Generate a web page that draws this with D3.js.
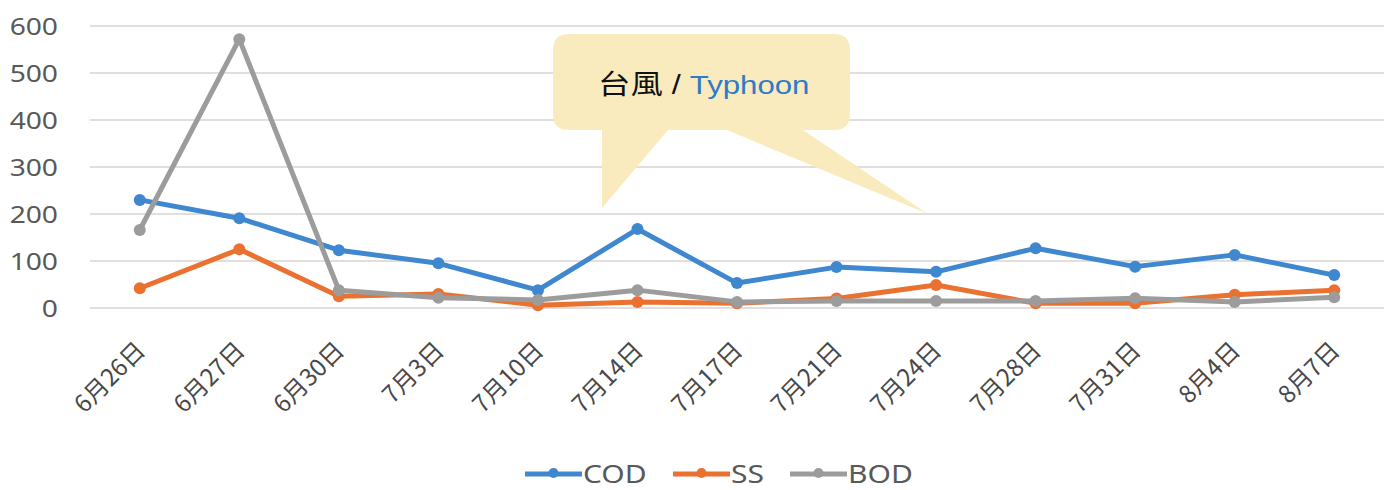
<!DOCTYPE html>
<html><head><meta charset="utf-8">
<script src="https://cdn.jsdelivr.net/npm/d3@7"></script>
<style>html,body{margin:0;padding:0;background:#fff;}svg{display:block;}</style>
</head><body>
<svg id="chart" width="1397" height="490"></svg>
<script>
const categories = ["6月26日","6月27日","6月30日","7月3日","7月10日","7月14日","7月17日","7月21日","7月24日","7月28日","7月31日","8月4日","8月7日"];
const codValues = [230, 191, 123, 95, 38, 168, 53, 87, 77, 127, 88, 113, 70];
const ssValues  = [42, 125, 25, 30, 6, 13, 10, 20, 49, 10, 10, 28, 38];
const bodValues = [166, 572, 38, 22, 17, 38, 13, 15, 15, 15, 21, 13, 23];
const yTicks = [0, 100, 200, 300, 400, 500, 600];
const seriesNames = ["COD", "SS", "BOD"];
const seriesColors = ["#3f87cf", "#ea7130", "#9c9c9c"];
const calloutText = ["台風", " / ", "Typhoon"];

const series = [codValues, ssValues, bodValues].map((v, i) => ({name: seriesNames[i], color: seriesColors[i], values: v}));
const SX = 1.2; // horizontal stretch of the original figure's text

const svg = d3.select("#chart");
const x = d3.scalePoint().domain(categories).range([90, 1384]).padding(0.5);
const y = d3.scaleLinear().domain([0, 600]).range([308, 26]);

// gridlines
svg.append("g").selectAll("line").data(yTicks).join("line")
  .attr("x1", 90).attr("x2", 1384)
  .attr("y1", d => y(d)).attr("y2", d => y(d))
  .attr("stroke", "#d9d3d3").attr("stroke-width", 1.6);

// y axis labels
const yAxis = d3.axisLeft(y).tickValues(yTicks).tickSize(0).tickPadding(0);
const yg = svg.append("g").attr("transform", "translate(58,0)").call(yAxis);
yg.select(".domain").remove();
yg.selectAll("text").attr("x", 0).attr("font-family", "'Noto Sans', sans-serif").attr("font-size", 23.5)
  .attr("fill", "#595959").attr("dy", "0.36em").attr("transform", `scale(${SX},1)`);

// x axis labels
const xAxis = d3.axisBottom(x).tickSize(0).tickPadding(0);
const xg = svg.append("g").call(xAxis);
xg.select(".domain").remove();
xg.selectAll(".tick").attr("transform", d => `translate(${x(d) + 7},352)`);
xg.selectAll("text")
  .attr("font-family", "'Noto Sans CJK TC', sans-serif").attr("font-size", 24)
  .attr("fill", "#484848").attr("text-anchor", "end")
  .attr("x", 0).attr("y", 0).attr("dy", 0)
  .attr("transform", "rotate(-45)");

// callout
const callout = svg.append("g");
const bx0 = 553, bx1 = 850, by0 = 34, by1 = 130, r = 16;
const p = d3.path();
p.moveTo(bx0 + r, by0);
p.lineTo(bx1 - r, by0);
p.quadraticCurveTo(bx1, by0, bx1, by0 + r);
p.lineTo(bx1, by1 - r);
p.quadraticCurveTo(bx1, by1, bx1 - r, by1);
p.lineTo(803, by1);
p.lineTo(928, 214);
p.lineTo(727, by1);
p.lineTo(668, by1);
p.lineTo(602, 208);
p.lineTo(602, by1);
p.lineTo(bx0 + r, by1);
p.quadraticCurveTo(bx0, by1, bx0, by1 - r);
p.lineTo(bx0, by0 + r);
p.quadraticCurveTo(bx0, by0, bx0 + r, by0);
p.closePath();
callout.append("path").attr("d", p.toString()).attr("fill", "#faeabb").attr("opacity", 0.95);
const ct = callout.append("g").attr("transform", `translate(598,94) scale(${SX},1)`)
  .append("text").attr("x", 0).attr("y", 0)
  .attr("font-family", "'Noto Sans CJK TC', sans-serif").attr("font-size", 27);
ct.append("tspan").text(calloutText[0]).attr("fill", "#111");
ct.append("tspan").text(calloutText[1]).attr("fill", "#111").attr("font-family", "'Liberation Sans', sans-serif");
ct.append("tspan").text(calloutText[2]).attr("fill", "#2e7bc9").attr("font-family", "'Liberation Sans', sans-serif").attr("font-size", 26);

// lines
const line = d3.line().x((d, i) => x(categories[i])).y(d => y(d));
const sg = svg.append("g").selectAll("g").data(series).join("g");
sg.append("path").attr("d", d => line(d.values)).attr("fill", "none")
  .attr("stroke", d => d.color).attr("stroke-width", 5).attr("stroke-linejoin", "round");
sg.selectAll("circle").data(d => d.values.map((v, i) => ({v, i, c: d.color}))).join("circle")
  .attr("cx", d => x(categories[d.i])).attr("cy", d => y(d.v)).attr("r", 6)
  .attr("fill", d => d.c);

// legend
const legendX = [525, 673, 790];
const lg = svg.append("g").selectAll("g").data(series).join("g")
  .attr("transform", (d, i) => `translate(${legendX[i]},474)`);
lg.append("line").attr("x1", 0).attr("x2", 57).attr("y1", 0).attr("y2", 0)
  .attr("stroke", d => d.color).attr("stroke-width", 5);
lg.append("circle").attr("cx", 28.5).attr("cy", -1).attr("r", 5).attr("fill", d => d.color);
lg.append("text").attr("x", 58 / SX).attr("y", 0).attr("dy", "0.34em").text(d => d.name)
  .attr("transform", `scale(${SX},1)`)
  .attr("font-family", "'Noto Sans', sans-serif").attr("font-size", 25).attr("fill", "#595959");
</script>
</body></html>
